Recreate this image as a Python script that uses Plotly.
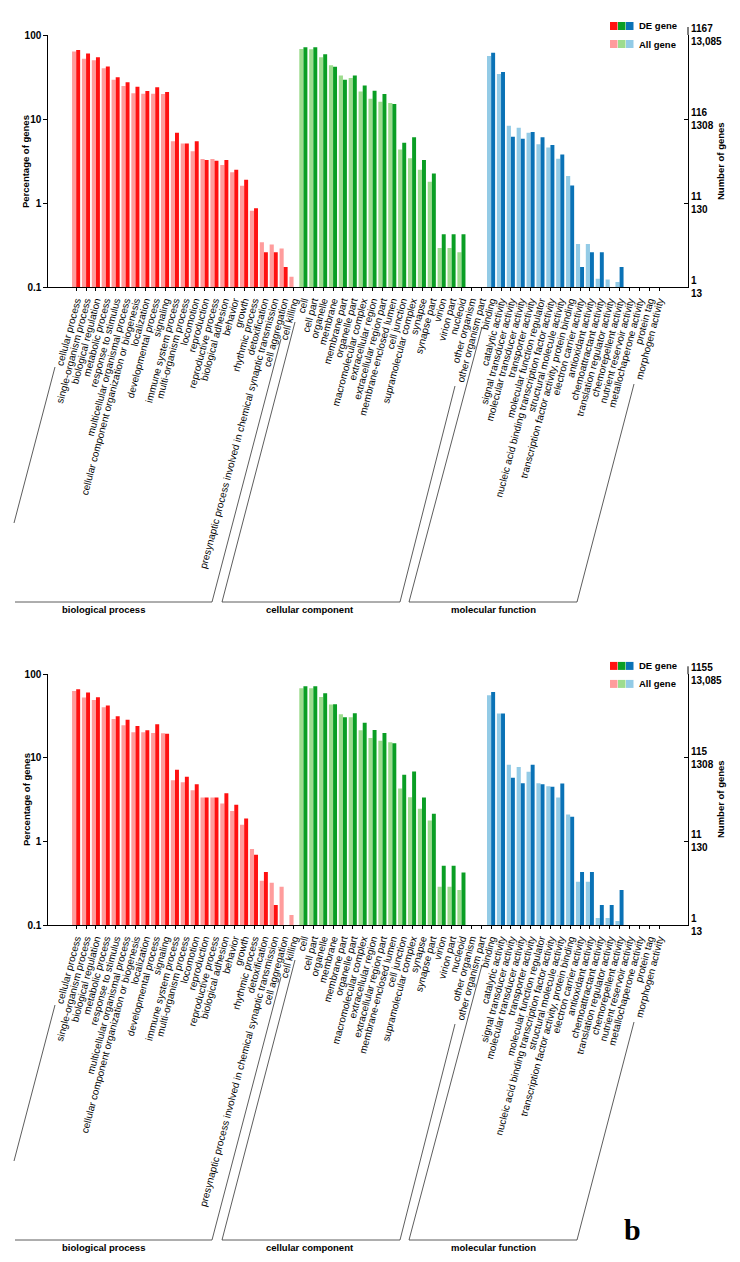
import plotly.graph_objects as go

# page is offset by the default 8px body margin; figure is sized to fit the window
PAGE_OFF = 8
W, H = 740 - PAGE_OFF, 1262 - PAGE_OFF

# ---------------- categories ----------------
bp_labels = ["cellular process", "single-organism process", "biological regulation", "metabolic process",
             "response to stimulus", "multicellular organismal process",
             "cellular component organization or biogenesis", "localization", "developmental process",
             "signaling", "immune system process", "multi-organism process", "locomotion", "reproduction",
             "reproductive process", "biological adhesion", "behavior", "growth", "rhythmic process",
             "detoxification", "presynaptic process involved in chemical synaptic transmission",
             "cell aggregation", "cell killing"]
cc_labels = ["cell", "cell part", "organelle", "membrane", "membrane part", "organelle part",
             "macromolecular complex", "extracellular region", "extracellular region part",
             "membrane-enclosed lumen", "cell junction", "supramolecular complex", "synapse", "synapse part",
             "virion", "virion part", "nucleoid", "other organism", "other organism part"]
mf_labels = ["binding", "catalytic activity", "signal transducer activity", "molecular transducer activity",
             "transporter activity", "molecular function regulator",
             "nucleic acid binding transcription factor activity", "structural molecule activity",
             "transcription factor activity, protein binding", "electron carrier activity",
             "antioxidant activity", "chemoattractant activity", "translation regulator activity",
             "chemorepellent activity", "nutrient reservoir activity", "metallochaperone activity",
             "protein tag", "morphogen activity"]

# ---------------- panel (top) values, % of genes ----------------
top_all_bp = [63.4, 52.2, 49.9, 40.1, 29.4, 24.7, 20.2, 20.0, 20.0, 19.8, 5.45, 5.12, 4.14, 3.33, 3.33,
              2.84, 2.33, 1.60, 0.806, 0.341, 0.32, 0.287, 0.132]
top_de_bp = [66.3, 60.4, 54.2, 42.3, 31.3, 27.3, 24.2, 21.5, 23.8, 20.9, 6.86, 5.12, 5.45, 3.24, 3.18,
             3.24, 2.48, 1.89, 0.867, 0.259, 0.259, 0.173, None]
top_all_cc = [68.1, 67.5, 54.2, 43.5, 33.0, 30.7, 21.3, 17.4, 16.0, 15.5, 4.34, 3.42, 2.48, 1.79,
              0.292, 0.292, 0.259, None, None]
top_de_cc = [71.3, 71.3, 58.8, 41.9, 29.4, 33.0, 25.1, 21.7, 19.8, 15.1, 5.21, 6.08, 3.24, 2.25,
             0.425, 0.425, 0.425, None, None]
top_all_mf = [56.2, 34.3, 8.30, 7.85, 6.86, 5.02, 4.58, 3.36, 2.10, 0.326, 0.326, 0.125, 0.123, 0.115,
              None, None, None, None]
top_de_mf = [61.5, 36.2, 6.14, 5.81, 6.98, 6.08, 4.89, 3.78, 1.62, 0.173, 0.259, 0.259, None, 0.173,
             None, None, None, None]

# ---------------- panel (bottom) values ----------------
bot_all_bp = [63.2, 52.6, 49.3, 40.3, 29.2, 24.6, 20.3, 20.3, 19.9, 19.7, 5.41, 5.12, 4.11, 3.36, 3.36,
              2.85, 2.31, 1.58, 0.81, 0.339, 0.321, 0.287, 0.132]
bot_de_bp = [66.2, 60.4, 53.1, 42.2, 31.5, 28.5, 24.1, 21.4, 25.2, 19.4, 7.19, 5.93, 4.85, 3.36, 3.36,
             3.78, 2.74, 1.88, 0.693, 0.430, 0.173, None, None]
bot_all_cc = [68.0, 68.0, 53.6, 43.4, 33.3, 30.6, 21.4, 17.3, 16.0, 15.4, 4.30, 3.39, 2.46, 1.78,
              0.287, 0.287, 0.262, None, None]
bot_de_cc = [71.9, 71.9, 59.3, 43.8, 30.6, 34.2, 26.4, 21.6, 19.9, 15.0, 6.27, 6.87, 3.36, 2.14,
             0.512, 0.512, 0.426, None, None]
bot_all_mf = [56.1, 33.9, 8.25, 7.80, 6.81, 4.98, 4.58, 3.36, 2.10, 0.330, 0.330, 0.121, 0.121, 0.112,
              None, None, None, None]
bot_de_mf = [61.5, 33.9, 5.77, 4.98, 8.25, 4.85, 4.50, 4.93, 1.97, 0.430, 0.430, 0.173, 0.173, 0.262,
             None, None, None, None]

# axis tick labels
pct_ticks = [0.1, 1, 10, 100]
pct_text = ["0.1", "1", "10", "100"]
top_right_text = ["1<br>13", "11<br>130", "116<br>1308", "1167<br>13,085"]
bot_right_text = ["1<br>13", "11<br>130", "115<br>1308", "1155<br>13,085"]

group_names = ["biological process", "cellular component", "molecular function"]

# colours
C_DE = ["#ff1111", "#0a9e24", "#0a72b6"]
C_ALL = ["#ff9c9c", "#9ddc8e", "#93cbe6"]

labels = bp_labels + cc_labels + mf_labels
n_bp, n_cc, n_mf = len(bp_labels), len(cc_labels), len(mf_labels)
col_de = [C_DE[0]] * n_bp + [C_DE[1]] * n_cc + [C_DE[2]] * n_mf
col_all = [C_ALL[0]] * n_bp + [C_ALL[1]] * n_cc + [C_ALL[2]] * n_mf

FONT = "Liberation Sans, Arial, sans-serif"


def px(x):
    return (x - PAGE_OFF) / W


def py(y):
    return 1 - (y - PAGE_OFF) / H


fig = go.Figure()

panels = [
    (top_all_bp + top_all_cc + top_all_mf, top_de_bp + top_de_cc + top_de_mf, "x", "y", "y2"),
    (bot_all_bp + bot_all_cc + bot_all_mf, bot_de_bp + bot_de_cc + bot_de_mf, "x2", "y3", "y4"),
]
for all_v, de_v, xa, ya, yr in panels:
    fig.add_trace(go.Bar(x=labels, y=all_v, marker=dict(color=col_all, line=dict(width=0)),
                         width=0.42, offset=-0.42, xaxis=xa, yaxis=ya, name="All gene", showlegend=False))
    fig.add_trace(go.Bar(x=labels, y=de_v, marker=dict(color=col_de, line=dict(width=0)),
                         width=0.4, offset=0.0, xaxis=xa, yaxis=yr, name="DE gene", showlegend=False))

XL, XR = 48.3, 688.0
x0_px, step = 76.2, 9.88
xrange = [(XL - x0_px) / step, (XR - x0_px) / step]

# panel y pixel extents (top of 100, bottom at 0.1)
tops = [(35.0, 287.0), (674.3, 925.0)]

common_x = dict(type="category", range=xrange, tickmode="array", tickvals=labels, ticktext=labels,
                tickangle=-75, tickfont=dict(family=FONT, size=10, color="black"),
                showline=True, linecolor="black", linewidth=1, ticks="outside", ticklen=3,
                tickcolor="black", showgrid=False, zeroline=False, automargin=False,
                domain=[px(XL), px(XR)])
common_y = dict(type="log", range=[-1, 2], tickmode="array", tickvals=pct_ticks, ticktext=pct_text,
                tickfont=dict(family=FONT, size=10, color="black", weight="bold"),
                showline=True, linecolor="black", linewidth=1, ticks="outside", ticklen=4,
                tickcolor="black", showgrid=False, zeroline=False, automargin=False)
common_r = dict(type="log", range=[-1, 2], tickmode="array", tickvals=pct_ticks,
                tickfont=dict(family=FONT, size=10, color="black", weight="bold"),
                showline=True, linecolor="black", linewidth=1, ticks="inside", ticklen=4,
                tickcolor="black", showgrid=False, zeroline=False, automargin=False, side="right")

fig.update_layout(
    xaxis=dict(common_x, anchor="y"),
    yaxis=dict(common_y, anchor="x", domain=[py(tops[0][1]), py(tops[0][0])]),
    yaxis2=dict(common_r, overlaying="y", anchor="x", ticktext=top_right_text),
    xaxis2=dict(common_x, anchor="y3"),
    yaxis3=dict(common_y, anchor="x2", domain=[py(tops[1][1]), py(tops[1][0])]),
    yaxis4=dict(common_r, overlaying="y3", anchor="x2", ticktext=bot_right_text),
)

shapes = []
annotations = []

# bracket geometry (page pixel coords for the top panel); bottom panel shifted by dy
brackets = [
    [((14, 523), (55, 367)), ((15, 602), (212, 602)), ((212, 602), (281, 339))],
    [((222, 602), (295, 322)), ((222, 602), (400, 602)), ((400, 602), (455, 386))],
    [((409, 602), (482, 327)), ((409, 602), (577, 602)), ((577, 602), (634, 384))],
]
group_cx = [103, 310, 493]

for k, dy in enumerate([0, 638]):
    for grp in brackets:
        for (a, b) in grp:
            shapes.append(dict(type="line", xref="paper", yref="paper",
                               x0=px(a[0]), y0=py(a[1] + dy), x1=px(b[0]), y1=py(b[1] + dy),
                               line=dict(color="#333333", width=0.8)))
    for name, cx in zip(group_names, group_cx):
        annotations.append(dict(text=name, x=px(cx), y=py(609 + dy), xref="paper", yref="paper",
                                showarrow=False, xanchor="center", yanchor="middle",
                                font=dict(family=FONT, size=9.5, color="black", weight="bold")))
    # axis titles
    annotations.append(dict(text="Percentage of genes", x=px(26), y=py(162 + dy), xref="paper", yref="paper",
                            showarrow=False, textangle=-90, xanchor="center", yanchor="middle",
                            font=dict(family=FONT, size=9.5, color="black", weight="bold")))
    annotations.append(dict(text="Number of genes", x=px(720), y=py(161 + dy), xref="paper", yref="paper",
                            showarrow=False, textangle=-90, xanchor="center", yanchor="middle",
                            font=dict(family=FONT, size=9.5, color="black", weight="bold")))
    # legend
    ly = [22 + dy * 1.003, 40 + dy * 1.003]
    for row, cols in enumerate([C_DE, C_ALL]):
        for j, c in enumerate(cols):
            shapes.append(dict(type="rect", xref="paper", yref="paper",
                               x0=px(610 + 8 * j), x1=px(617.5 + 8 * j),
                               y0=py(ly[row] + 8), y1=py(ly[row]),
                               fillcolor=c, line=dict(width=0)))
        annotations.append(dict(text=["DE gene", "All gene"][row], x=px(637), y=py(ly[row] + 4),
                                xref="paper", yref="paper", showarrow=False, xanchor="left",
                                yanchor="middle",
                                font=dict(family=FONT, size=9.5, color="black", weight="bold")))
    # right axis extension above top tick
    shapes.append(dict(type="line", xref="paper", yref="paper", x0=px(XR), x1=px(XR),
                       y0=py(tops[k][0]), y1=py(tops[k][0] - 8), line=dict(color="black", width=1)))

annotations.append(dict(text="b", x=px(632), y=py(1229), xref="paper", yref="paper", showarrow=False,
                        xanchor="center", yanchor="middle",
                        font=dict(family="Liberation Serif, Times New Roman, serif", size=30,
                                  color="black", weight="bold")))

fig.update_layout(width=W, height=H, margin=dict(l=0, r=0, t=0, b=0),
                  paper_bgcolor="white", plot_bgcolor="white", barmode="overlay",
                  shapes=shapes, annotations=annotations, showlegend=False,
                  template="none")

fig.write_html("out.html")
